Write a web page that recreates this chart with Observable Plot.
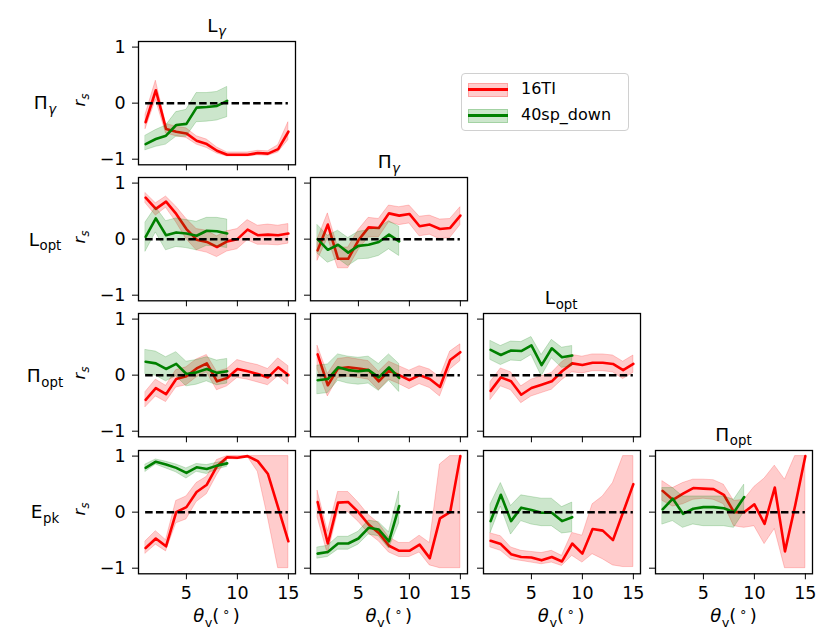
<!DOCTYPE html>
<html><head><meta charset="utf-8">
<script src="https://cdn.jsdelivr.net/npm/d3@7"></script>
<script src="https://cdn.jsdelivr.net/npm/@observablehq/plot@0.6"></script>
<style>
body{margin:0;background:#fff;font-family:"DejaVu Sans",sans-serif;}
#fig{position:relative;width:830px;height:643px;overflow:hidden;background:#fff;}
#fig svg{position:absolute;}
#fig svg text{font-family:"DejaVu Sans",sans-serif !important;font-size:17.5px !important;fill:#000;}
.lab{position:absolute;white-space:nowrap;color:#000;line-height:1;transform:translate(-50%,-50%);font-family:"DejaVu Sans",sans-serif;}
.sub{font-size:72%;position:relative;top:0.35em;margin-left:0.04em;}
.sup{font-size:70%;position:relative;top:-0.45em;margin:0 0.22em;}
.rot{transform:translate(-50%,-50%) rotate(-90deg);}
#legend{position:absolute;left:461px;top:73px;width:168px;height:58px;border:1px solid #d0d0d0;border-radius:4px;background:rgba(255,255,255,0.8);box-sizing:border-box;}
.le{position:absolute;left:6px;height:13px;width:40px;}
.le .patch{position:absolute;left:0;top:0;width:38px;height:12px;border:1px solid;}
.le .ln{position:absolute;left:0;top:5px;width:40px;height:3px;}
.lt{position:absolute;left:59px;font-size:16px;line-height:1;}
</style></head>
<body><div id="fig"></div>
<script>
// x positions (viewing angle, degrees)
const theta16 = [1,2,3,4,5,6,7,8,9,10,11,12,13,14,15];
const theta40 = [1,2,3,4,5,6,7,8,9];
const seriesNames = ["16TI", "40sp_down"];
const rowVars = ["Π_γ", "L_opt", "Π_opt", "E_pk"];
const colVars = ["L_γ", "Π_γ", "L_opt", "Π_opt"];
const xTicks = [5, 10, 15];
const yTicks = [-1, 0, 1];

// Π_γ vs L_γ
const PiG_LG_red    = [-0.34,0.23,-0.46,-0.51,-0.54,-0.67,-0.73,-0.85,-0.92,-0.92,-0.92,-0.89,-0.9,-0.82,-0.51];
const PiG_LG_red_lo = [-0.46,0.06,-0.54,-0.59,-0.62,-0.74,-0.8,-0.9,-0.95,-0.95,-0.95,-0.93,-0.94,-0.88,-0.66];
const PiG_LG_red_hi = [-0.2,0.4,-0.37,-0.42,-0.45,-0.59,-0.65,-0.79,-0.88,-0.88,-0.88,-0.85,-0.86,-0.75,-0.34];
const PiG_LG_grn    = [-0.73,-0.64,-0.58,-0.39,-0.37,-0.08,-0.07,-0.05,0.04];
const PiG_LG_grn_lo = [-0.84,-0.78,-0.74,-0.6,-0.6,-0.34,-0.33,-0.31,-0.25];
const PiG_LG_grn_hi = [-0.58,-0.48,-0.4,-0.16,-0.12,0.18,0.18,0.2,0.29];
// L_opt vs L_γ
const Lopt_LG_red    = [0.74,0.54,0.67,0.45,0.18,-0.01,-0.05,-0.14,-0.04,0.0,0.17,0.07,0.08,0.07,0.1];
const Lopt_LG_red_lo = [0.64,0.42,0.56,0.3,0.0,-0.2,-0.24,-0.32,-0.22,-0.18,-0.02,-0.1,-0.1,-0.11,-0.08];
const Lopt_LG_red_hi = [0.82,0.64,0.76,0.58,0.36,0.18,0.15,0.05,0.14,0.18,0.34,0.24,0.26,0.24,0.27];
const Lopt_LG_grn    = [0.04,0.37,0.07,0.12,0.1,0.06,0.15,0.14,0.1];
const Lopt_LG_grn_lo = [-0.22,0.12,-0.2,-0.14,-0.16,-0.2,-0.12,-0.13,-0.16];
const Lopt_LG_grn_hi = [0.3,0.57,0.32,0.37,0.34,0.31,0.38,0.38,0.35];
// L_opt vs Π_γ
const Lopt_PiG_red    = [-0.2,0.26,-0.35,-0.35,-0.02,0.21,0.2,0.46,0.42,0.45,0.23,0.26,0.18,0.2,0.42];
const Lopt_PiG_red_lo = [-0.38,0.02,-0.52,-0.52,-0.2,0.03,0.03,0.3,0.25,0.28,0.05,0.08,0.0,0.02,0.25];
const Lopt_PiG_red_hi = [0.0,0.46,-0.15,-0.15,0.16,0.38,0.36,0.6,0.57,0.6,0.4,0.42,0.35,0.36,0.57];
const Lopt_PiG_grn    = [0.0,-0.19,-0.1,-0.24,-0.12,-0.1,-0.05,0.08,-0.04];
const Lopt_PiG_grn_lo = [-0.26,-0.42,-0.35,-0.48,-0.36,-0.35,-0.3,-0.18,-0.3];
const Lopt_PiG_grn_hi = [0.25,0.06,0.15,0.02,0.13,0.16,0.2,0.32,0.22];
// Π_opt vs L_γ
const PiO_LG_red    = [-0.44,-0.23,-0.34,-0.07,-0.02,0.12,0.21,-0.11,-0.05,0.11,0.07,0.02,-0.04,0.14,0.0];
const PiO_LG_red_lo = [-0.57,-0.38,-0.48,-0.22,-0.18,-0.04,0.05,-0.27,-0.2,-0.05,-0.08,-0.13,-0.18,-0.02,-0.17];
const PiO_LG_red_hi = [-0.3,-0.08,-0.19,0.09,0.14,0.28,0.36,0.06,0.11,0.27,0.22,0.18,0.11,0.3,0.16];
const PiO_LG_grn    = [0.24,0.21,0.11,0.2,0.02,0.05,0.11,0.04,0.07];
const PiO_LG_grn_lo = [0.02,-0.01,-0.11,-0.02,-0.2,-0.17,-0.11,-0.18,-0.15];
const PiO_LG_grn_hi = [0.45,0.42,0.32,0.41,0.24,0.27,0.32,0.26,0.29];
// Π_opt vs Π_γ
const PiO_PiG_red    = [0.37,-0.18,0.12,0.14,0.12,0.09,-0.11,0.08,0.0,-0.09,0.0,-0.07,-0.21,0.27,0.41];
const PiO_PiG_red_lo = [0.1,-0.38,-0.05,-0.03,-0.05,-0.08,-0.27,-0.08,-0.16,-0.25,-0.16,-0.23,-0.38,0.1,0.25];
const PiO_PiG_red_hi = [0.52,0.02,0.29,0.31,0.28,0.25,0.06,0.24,0.16,0.08,0.16,0.1,-0.04,0.42,0.55];
const PiO_PiG_grn    = [-0.09,-0.07,0.14,0.09,0.07,0.09,-0.04,0.14,-0.05];
const PiO_PiG_grn_lo = [-0.34,-0.32,-0.1,-0.15,-0.17,-0.15,-0.28,-0.1,-0.3];
const PiO_PiG_grn_hi = [0.17,0.19,0.37,0.33,0.31,0.33,0.2,0.37,0.2];
// Π_opt vs L_opt
const PiO_Lopt_red    = [-0.28,-0.04,-0.11,-0.35,-0.23,-0.17,-0.11,0.07,0.21,0.18,0.22,0.22,0.2,0.09,0.2];
const PiO_Lopt_red_lo = [-0.44,-0.2,-0.27,-0.5,-0.38,-0.32,-0.26,-0.09,0.05,0.03,0.07,0.07,0.05,-0.07,0.04];
const PiO_Lopt_red_hi = [-0.12,0.12,0.05,-0.2,-0.08,-0.02,0.04,0.23,0.36,0.33,0.37,0.37,0.35,0.24,0.35];
const PiO_Lopt_grn    = [0.45,0.36,0.44,0.43,0.53,0.18,0.48,0.32,0.35];
const PiO_Lopt_grn_lo = [0.27,0.18,0.26,0.25,0.36,-0.02,0.3,0.13,0.16];
const PiO_Lopt_grn_hi = [0.61,0.52,0.6,0.59,0.68,0.36,0.63,0.49,0.52];
// E_pk vs L_γ
const Epk_LG_red    = [-0.64,-0.47,-0.61,0.0,0.09,0.36,0.49,0.82,0.98,0.97,1.0,0.91,0.68,0.08,-0.52];
const Epk_LG_red_lo = [-0.74,-0.58,-0.7,-0.2,-0.13,0.18,0.32,0.66,0.95,0.94,0.99,0.72,-0.1,-1,-1];
const Epk_LG_red_hi = [-0.52,-0.34,-0.5,0.2,0.28,0.52,0.63,0.93,1.0,1.0,1.0,1.0,1.0,1.0,1.0];
const Epk_LG_grn    = [0.79,0.9,0.85,0.79,0.7,0.8,0.77,0.83,0.87];
const Epk_LG_grn_lo = [0.72,0.85,0.78,0.71,0.6,0.72,0.68,0.76,0.81];
const Epk_LG_grn_hi = [0.85,0.94,0.9,0.85,0.78,0.86,0.84,0.88,0.92];
// E_pk vs Π_γ
const Epk_PiG_red    = [0.18,-0.56,0.17,0.18,0.0,-0.22,-0.37,-0.6,-0.69,-0.69,-0.58,-0.82,-0.11,0.0,1.0];
const Epk_PiG_red_lo = [-0.1,-0.75,0.0,0.0,-0.17,-0.38,-0.52,-0.72,-0.8,-0.8,-0.72,-0.95,-1,-1,-1];
const Epk_PiG_red_hi = [0.38,-0.35,0.36,0.36,0.17,-0.05,-0.2,-0.45,-0.55,-0.55,-0.42,-0.55,0.85,1.0,1.0];
const Epk_PiG_grn    = [-0.74,-0.71,-0.56,-0.56,-0.47,-0.28,-0.31,-0.52,0.11];
const Epk_PiG_grn_lo = [-0.83,-0.8,-0.67,-0.67,-0.58,-0.4,-0.43,-0.65,-0.2];
const Epk_PiG_grn_hi = [-0.63,-0.6,-0.44,-0.44,-0.35,-0.15,-0.18,-0.36,0.37];
// E_pk vs L_opt
const Epk_Lopt_red    = [-0.51,-0.57,-0.75,-0.8,-0.81,-0.86,-0.8,-0.88,-0.56,-0.74,-0.3,-0.33,-0.5,0.0,0.5];
const Epk_Lopt_red_lo = [-0.63,-0.69,-0.84,-0.87,-0.9,-0.93,-0.9,-0.96,-0.78,-0.9,-0.75,-0.84,-0.95,-0.98,-0.98];
const Epk_Lopt_red_hi = [-0.38,-0.43,-0.63,-0.69,-0.71,-0.73,-0.69,-0.78,-0.37,-0.42,0.14,0.28,0.52,1.0,1.0];
const Epk_Lopt_grn    = [-0.16,0.31,-0.16,0.08,0.04,-0.01,-0.01,-0.16,-0.09];
const Epk_Lopt_grn_lo = [-0.37,0.1,-0.4,-0.16,-0.22,-0.25,-0.25,-0.38,-0.36];
const Epk_Lopt_grn_hi = [0.14,0.52,0.11,0.3,0.27,0.24,0.24,0.09,0.17];
// E_pk vs Π_opt
const Epk_PiO_red    = [0.38,0.22,0.33,0.43,0.42,0.41,0.31,0.0,0.0,0.14,-0.21,0.44,-0.7,0.12,1.0];
const Epk_PiO_red_lo = [0.2,0.1,0.14,0.22,0.24,0.22,0.14,-0.25,-0.28,-0.25,-0.57,-0.3,-1,-1,-1];
const Epk_PiO_red_hi = [0.55,0.43,0.52,0.58,0.58,0.57,0.49,0.2,0.22,0.45,0.6,0.83,0.58,1.0,1.0];
const Epk_PiO_grn    = [0.05,0.24,-0.03,0.06,0.09,0.09,0.07,0.0,0.27];
const Epk_PiO_grn_lo = [-0.22,-0.16,-0.28,-0.22,-0.25,-0.25,-0.25,-0.28,0.0];
const Epk_PiO_grn_hi = [0.43,0.43,0.28,0.28,0.28,0.28,0.28,0.22,0.49];

const panels = [
  {r:0,c:0,red:[PiG_LG_red,PiG_LG_red_lo,PiG_LG_red_hi],grn:[PiG_LG_grn,PiG_LG_grn_lo,PiG_LG_grn_hi]},
  {r:1,c:0,red:[Lopt_LG_red,Lopt_LG_red_lo,Lopt_LG_red_hi],grn:[Lopt_LG_grn,Lopt_LG_grn_lo,Lopt_LG_grn_hi]},
  {r:1,c:1,red:[Lopt_PiG_red,Lopt_PiG_red_lo,Lopt_PiG_red_hi],grn:[Lopt_PiG_grn,Lopt_PiG_grn_lo,Lopt_PiG_grn_hi]},
  {r:2,c:0,red:[PiO_LG_red,PiO_LG_red_lo,PiO_LG_red_hi],grn:[PiO_LG_grn,PiO_LG_grn_lo,PiO_LG_grn_hi]},
  {r:2,c:1,red:[PiO_PiG_red,PiO_PiG_red_lo,PiO_PiG_red_hi],grn:[PiO_PiG_grn,PiO_PiG_grn_lo,PiO_PiG_grn_hi]},
  {r:2,c:2,red:[PiO_Lopt_red,PiO_Lopt_red_lo,PiO_Lopt_red_hi],grn:[PiO_Lopt_grn,PiO_Lopt_grn_lo,PiO_Lopt_grn_hi]},
  {r:3,c:0,red:[Epk_LG_red,Epk_LG_red_lo,Epk_LG_red_hi],grn:[Epk_LG_grn,Epk_LG_grn_lo,Epk_LG_grn_hi]},
  {r:3,c:1,red:[Epk_PiG_red,Epk_PiG_red_lo,Epk_PiG_red_hi],grn:[Epk_PiG_grn,Epk_PiG_grn_lo,Epk_PiG_grn_hi]},
  {r:3,c:2,red:[Epk_Lopt_red,Epk_Lopt_red_lo,Epk_Lopt_red_hi],grn:[Epk_Lopt_grn,Epk_Lopt_grn_lo,Epk_Lopt_grn_hi]},
  {r:3,c:3,red:[Epk_PiO_red,Epk_PiO_red_lo,Epk_PiO_red_hi],grn:[Epk_PiO_grn,Epk_PiO_grn_lo,Epk_PiO_grn_hi]}
];

const fig = document.getElementById("fig");
const L = [138, 310.3, 482.7, 655];
const T = [40.7, 176.9, 313.3, 449.8];
const W = 157, H = 123.3;
const ml = 45, mr = 10, mt = 10, mb = 45;
const RED = "#ff0000", GRN = "#008000";
const minus = d => d < 0 ? "\u2212" + (-d) : String(d);

function rows(xs, s) { return xs.map((x, i) => ({x, m: s[0][i], lo: s[1][i], hi: s[2][i]})); }

for (const p of panels) {
  const rr = rows(theta16, p.red), gg = rows(theta40, p.grn);
  const svg = Plot.plot({
    width: W + ml + mr, height: H + mt + mb,
    marginLeft: ml, marginRight: mr, marginTop: mt, marginBottom: mb,
    x: {domain: [0.3, 15.7]},
    y: {domain: [-1.1, 1.1]},
    style: {background: "transparent", fontFamily: "DejaVu Sans", fontSize: "17.5px", color: "black", overflow: "visible"},
    marks: [
      Plot.areaY(rr, {x: "x", y1: "lo", y2: "hi", fill: RED, fillOpacity: 0.2, stroke: RED, strokeOpacity: 0.2, strokeWidth: 1}),
      Plot.lineY(rr, {x: "x", y: "m", stroke: RED, strokeWidth: 2.6}),
      Plot.areaY(gg, {x: "x", y1: "lo", y2: "hi", fill: GRN, fillOpacity: 0.2, stroke: GRN, strokeOpacity: 0.2, strokeWidth: 1}),
      Plot.lineY(gg, {x: "x", y: "m", stroke: GRN, strokeWidth: 2.6}),
      Plot.ruleY([0], {x1: theta16[0], x2: theta16[theta16.length - 1], stroke: "black", strokeWidth: 2.5, strokeDasharray: "7.5,3.3"}),
      Plot.frame({stroke: "black", strokeWidth: 1.3}),
      Plot.axisX({ticks: xTicks, tickSize: 6, tickPadding: 7, fontSize: 17.5, label: null, tickFormat: p.r === 3 ? (d => String(d)) : (() => "")}),
      Plot.axisY({ticks: yTicks, tickSize: 6, tickPadding: 7, fontSize: 17.5, label: null, tickFormat: p.c === 0 ? minus : (() => "")})
    ]
  });
  svg.style.left = (L[p.c] - ml) + "px";
  svg.style.top = (T[p.r] - mt) + "px";
  fig.appendChild(svg);
}

function label(html, x, y, size, cls) {
  const d = document.createElement("div");
  d.className = "lab" + (cls ? " " + cls : "");
  d.style.left = x + "px"; d.style.top = y + "px"; d.style.fontSize = size + "px";
  d.innerHTML = html;
  fig.appendChild(d);
}
function varHtml(v) {
  const [base, sub] = v.split("_");
  const italicSub = sub === "γ";
  return base + `<span class="sub"${italicSub ? ' style="font-style:italic"' : ''}>${sub}</span>`;
}
// column titles
colVars.forEach((v, c) => label(varHtml(v), L[c] + W / 2, T[c] - 15, 18.5));
// row labels and r_s
rowVars.forEach((v, r) => {
  label(varHtml(v), 45, T[r] + H / 2 + 1, 18.5);
  label('<i>r</i><span class="sub" style="font-style:italic">s</span>', 80, T[r] + H / 2 - 2, 16, "rot");
});
// x labels on bottom row
for (let c = 0; c < 4; c++) {
  label('<i>θ</i><span class="sub">v</span>(<span class="sup">∘</span>)', L[c] + W / 2, 616, 18);
}
// legend
const lg = document.createElement("div");
lg.id = "legend";
const cols = [RED, GRN];
lg.innerHTML = seriesNames.map((n, i) => `
  <div class="le" style="top:${9 + i * 26}px">
    <div class="patch" style="background:${cols[i]}33;border-color:${cols[i]}33"></div>
    <div class="ln" style="background:${cols[i]}"></div>
  </div>
  <div class="lt" style="top:${7 + i * 26}px">${n}</div>`).join("");
fig.appendChild(lg);
</script>
</body></html>
